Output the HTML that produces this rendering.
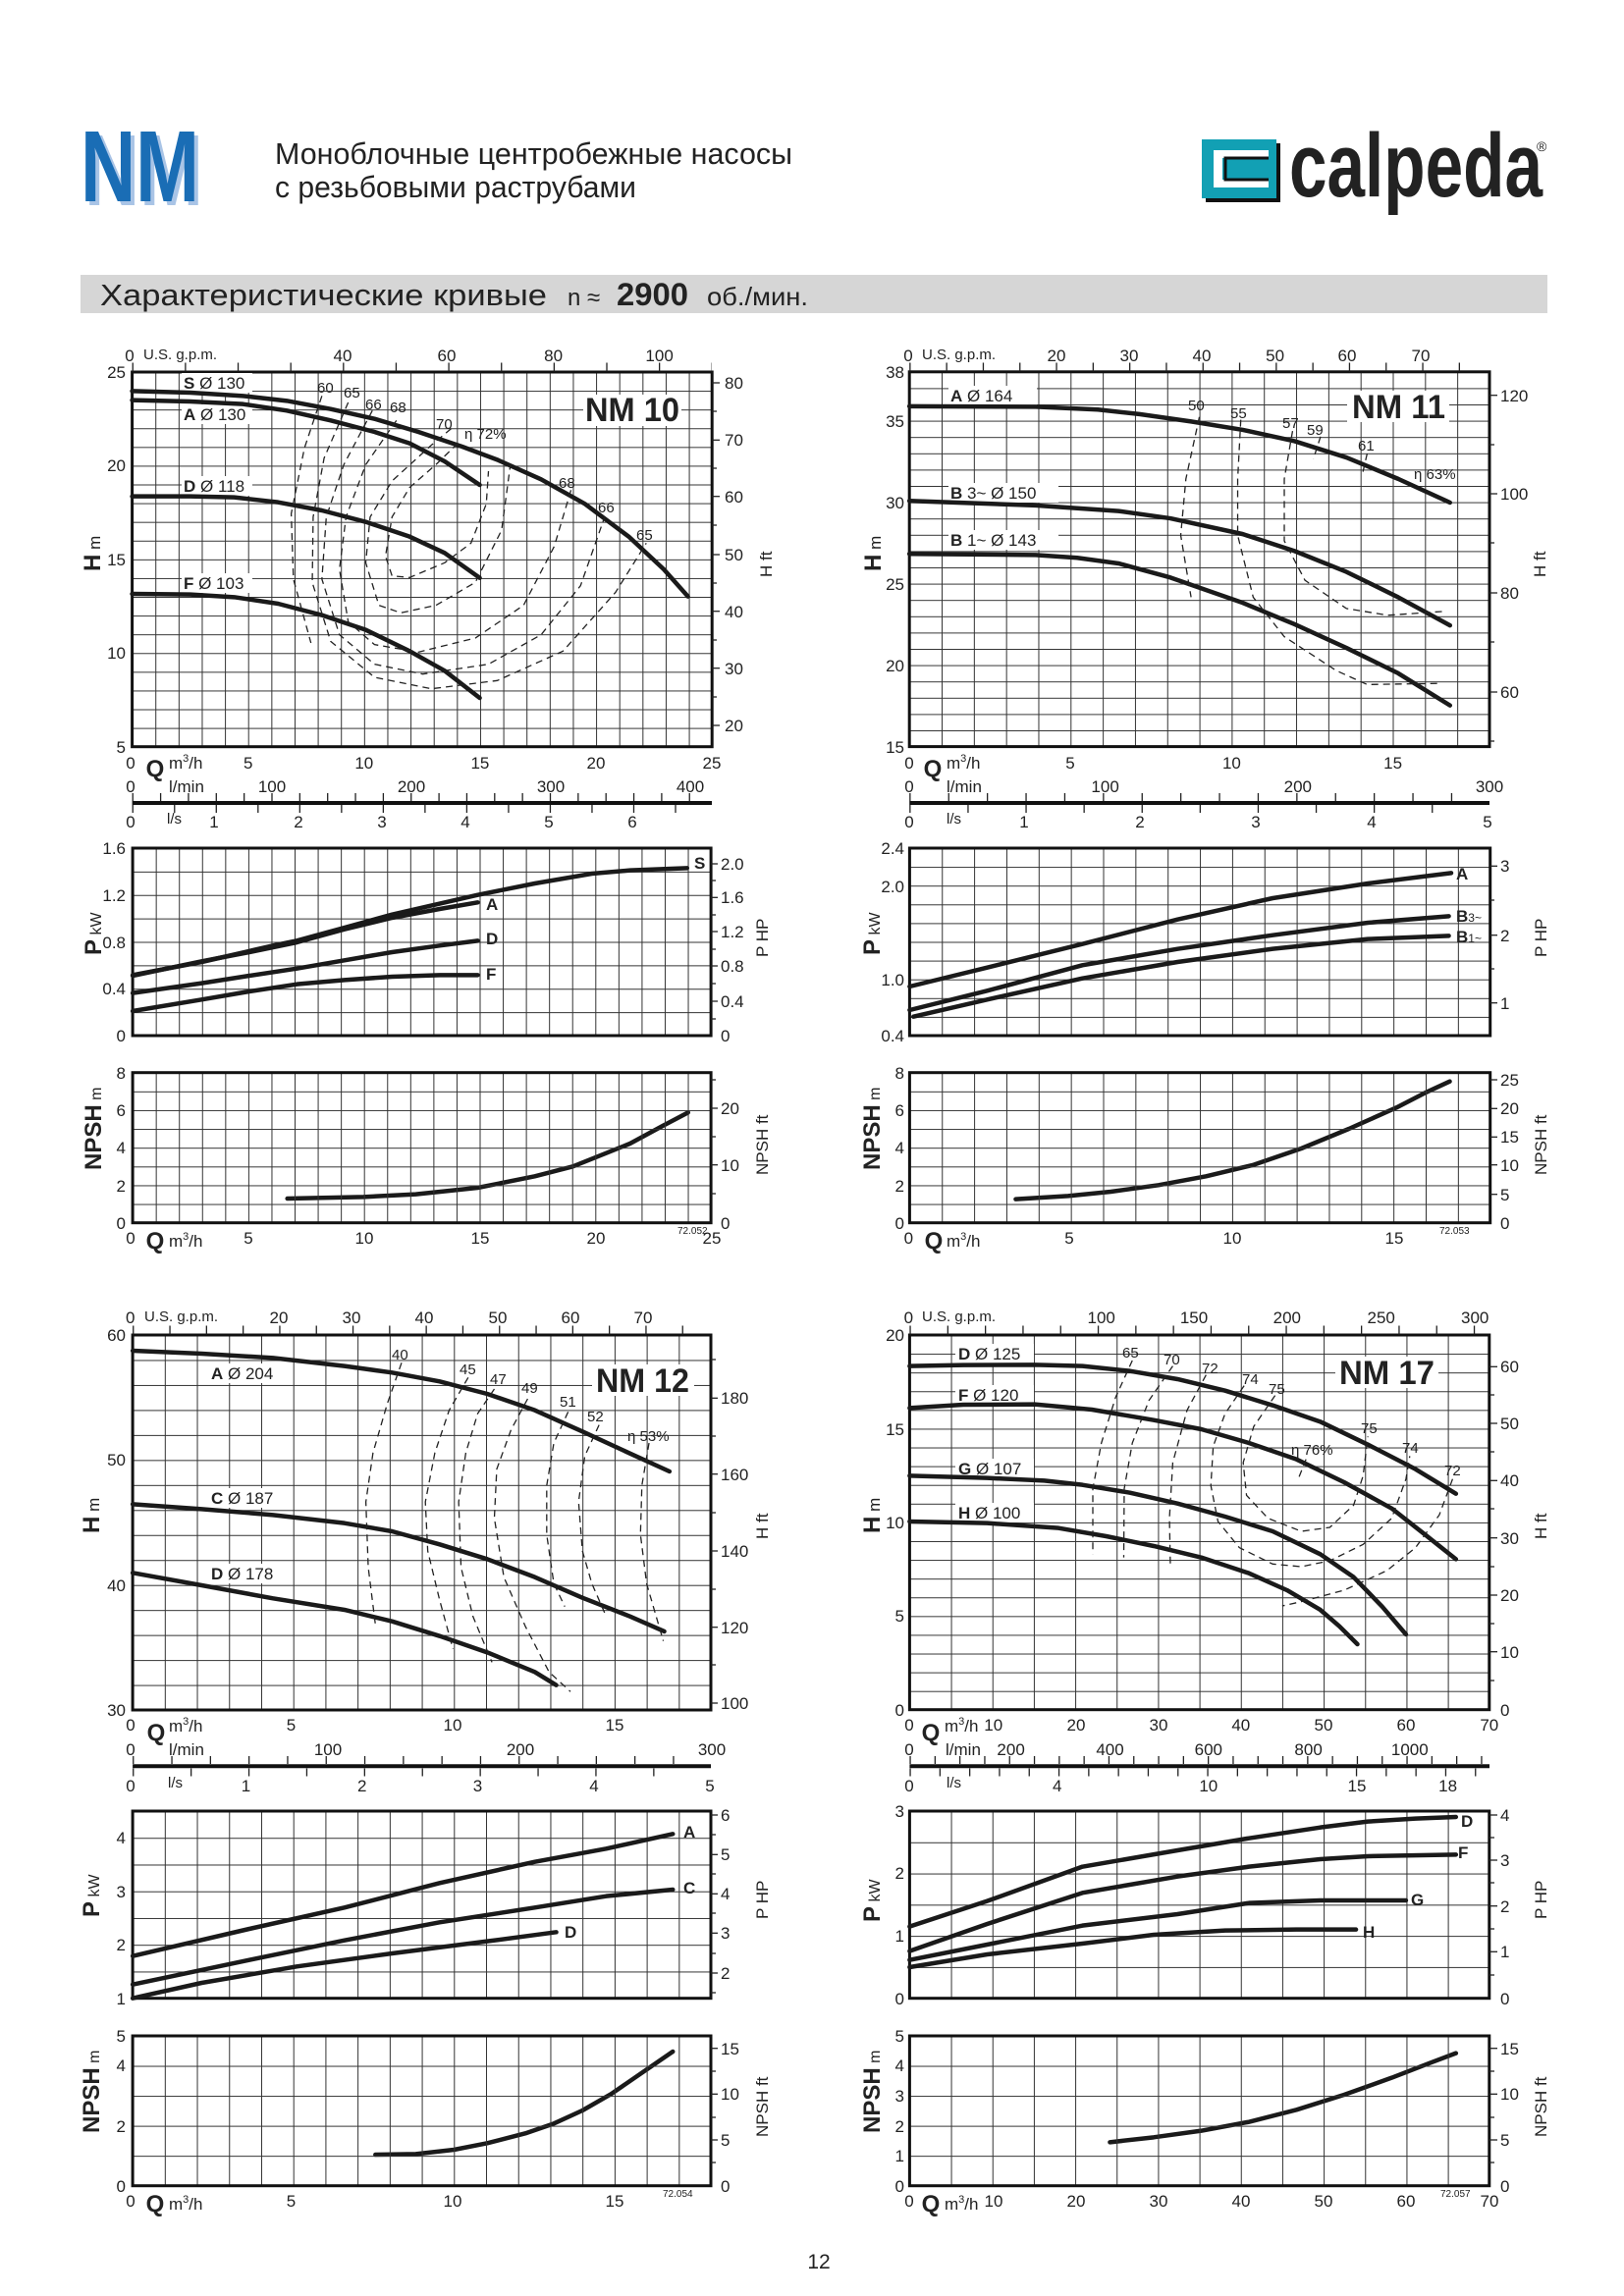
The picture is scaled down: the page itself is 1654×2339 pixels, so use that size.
<!DOCTYPE html>
<html><head><meta charset="utf-8"><style>
html,body{margin:0;padding:0;background:#fff}
svg{display:block}
text{font-family:"Liberation Sans",sans-serif;fill:#222}
.t{font-size:17px}.s{font-size:15px}.xs{font-size:10px}
.b{font-weight:bold}
.c{fill:none;stroke:#1a1a1a;stroke-width:4.5;stroke-linejoin:round;stroke-linecap:round;vector-effect:non-scaling-stroke}
.d{fill:none;stroke:#222;stroke-width:1.3;stroke-dasharray:7 5;vector-effect:non-scaling-stroke}
.f{fill:none;stroke:#111;stroke-width:3}
.tk{stroke:#222;stroke-width:1.3}
.e{text-anchor:end}.m{text-anchor:middle}
</style></head><body>
<svg width="1654" height="2339" viewBox="0 0 1654 2339" xmlns="http://www.w3.org/2000/svg">
<defs>
<pattern id="g1" patternUnits="userSpaceOnUse" x="134.6" y="379" width="23.624" height="19.085"><path d="M0 0H23.624M0 0V19.085" stroke="#333" stroke-width="2" fill="none"/></pattern>
<pattern id="g2" patternUnits="userSpaceOnUse" x="926.2" y="378.8" width="32.82" height="16.6"><path d="M0 0H32.82M0 0V16.6" stroke="#333" stroke-width="2" fill="none"/></pattern>
<pattern id="g3" patternUnits="userSpaceOnUse" x="135.1" y="864" width="23.56" height="23.875"><path d="M0 0H23.56M0 0V23.875" stroke="#333" stroke-width="2" fill="none"/></pattern>
<pattern id="g4" patternUnits="userSpaceOnUse" x="135.1" y="1092.7" width="23.56" height="19.125"><path d="M0 0H23.56M0 0V19.125" stroke="#333" stroke-width="2" fill="none"/></pattern>
<pattern id="g5" patternUnits="userSpaceOnUse" x="926.4" y="864" width="32.85" height="19.1"><path d="M0 0H32.85M0 0V19.1" stroke="#333" stroke-width="2" fill="none"/></pattern>
<pattern id="g6" patternUnits="userSpaceOnUse" x="926.4" y="1092.7" width="32.85" height="19.125"><path d="M0 0H32.85M0 0V19.125" stroke="#333" stroke-width="2" fill="none"/></pattern>
<pattern id="g7" patternUnits="userSpaceOnUse" x="135.1" y="1360" width="32.72" height="25.47"><path d="M0 0H32.72M0 0V25.47" stroke="#333" stroke-width="2" fill="none"/></pattern>
<pattern id="g8" patternUnits="userSpaceOnUse" x="926.4" y="1360" width="42.17" height="19.09"><path d="M0 0H42.17M0 0V19.09" stroke="#333" stroke-width="2" fill="none"/></pattern>
<pattern id="g9" patternUnits="userSpaceOnUse" x="135.1" y="1845" width="32.72" height="27.24"><path d="M0 0H32.72M0 0V27.24" stroke="#333" stroke-width="2" fill="none"/></pattern>
<pattern id="g10" patternUnits="userSpaceOnUse" x="135.1" y="2074" width="32.72" height="30.54"><path d="M0 0H32.72M0 0V30.54" stroke="#333" stroke-width="2" fill="none"/></pattern>
<pattern id="g11" patternUnits="userSpaceOnUse" x="926.4" y="1845" width="42.17" height="31.78"><path d="M0 0H42.17M0 0V31.78" stroke="#333" stroke-width="2" fill="none"/></pattern>
<pattern id="g12" patternUnits="userSpaceOnUse" x="926.4" y="2074" width="42.17" height="30.54"><path d="M0 0H42.17M0 0V30.54" stroke="#333" stroke-width="2" fill="none"/></pattern>
</defs>

<!-- HEADER -->
<text x="86" y="209" font-size="103" font-weight="bold" textLength="121" lengthAdjust="spacingAndGlyphs" style="fill:#a9c4e6">NM</text>
<text x="82" y="205" font-size="103" font-weight="bold" textLength="121" lengthAdjust="spacingAndGlyphs" style="fill:#1a6db5">NM</text>
<text x="280" y="167" font-size="31" textLength="527" lengthAdjust="spacingAndGlyphs">Моноблочные центробежные насосы</text>
<text x="280" y="201" font-size="31" textLength="368" lengthAdjust="spacingAndGlyphs">с резьбовыми раструбами</text>
<rect x="1228" y="146" width="76" height="60" fill="#111"/>
<rect x="1224" y="142" width="76" height="60" fill="#12a0b4"/>
<path d="M1292 153H1236V191H1292V183H1245V161H1292Z" fill="#fff"/>
<path d="M1292 161H1248V183H1292" fill="none" stroke="#111" stroke-width="3"/>
<text x="1313" y="200" font-size="92" font-weight="bold" textLength="258" lengthAdjust="spacingAndGlyphs">calpeda</text>
<text x="1565" y="154" font-size="14">®</text>
<rect x="82" y="280" width="1494" height="39" fill="#d6d6d6"/>
<text x="102" y="311" font-size="31" textLength="455" lengthAdjust="spacingAndGlyphs">Характеристические кривые</text>
<text x="578" y="311" font-size="24">n ≈</text>
<text x="628" y="311" font-size="32" font-weight="bold" textLength="73" lengthAdjust="spacingAndGlyphs">2900</text>
<text x="720" y="311" font-size="26" textLength="103" lengthAdjust="spacingAndGlyphs">об./мин.</text>

<!-- ================= NM10 H ================= -->
<rect x="134.6" y="379" width="590.6" height="381.7" fill="url(#g1)"/>
<rect x="134.6" y="379" width="590.6" height="381.7" class="f"/>
<line x1="134.6" y1="374" x2="725" y2="374" stroke="#222" stroke-width="9" stroke-dasharray="1.3 52.34"/>
<text x="132" y="368" class="t m">0</text><text x="146" y="366" class="s">U.S. g.p.m.</text>
<text x="349" y="368" class="t m">40</text><text x="455" y="368" class="t m">60</text><text x="563.6" y="368" class="t m">80</text><text x="671.6" y="368" class="t m">100</text>
<text x="128" y="385" class="t e">25</text><text x="128" y="480" class="t e">20</text><text x="128" y="576" class="t e">15</text><text x="128" y="671" class="t e">10</text><text x="128" y="767" class="t e">5</text>
<g class="tk"><line x1="725" y1="390" x2="733" y2="390"/><line x1="725" y1="448.3" x2="733" y2="448.3"/><line x1="725" y1="505.7" x2="733" y2="505.7"/><line x1="725" y1="565" x2="733" y2="565"/><line x1="725" y1="622.7" x2="733" y2="622.7"/><line x1="725" y1="680.7" x2="733" y2="680.7"/><line x1="725" y1="739" x2="733" y2="739"/>
<line x1="725" y1="419" x2="730" y2="419"/><line x1="725" y1="477" x2="730" y2="477"/><line x1="725" y1="535" x2="730" y2="535"/><line x1="725" y1="594" x2="730" y2="594"/><line x1="725" y1="652" x2="730" y2="652"/><line x1="725" y1="710" x2="730" y2="710"/></g>
<text x="738" y="396" class="t">80</text><text x="738" y="454" class="t">70</text><text x="738" y="512" class="t">60</text><text x="738" y="571" class="t">50</text><text x="738" y="629" class="t">40</text><text x="738" y="687" class="t">30</text><text x="738" y="745" class="t">20</text>
<text transform="translate(102,582) rotate(-90)"><tspan font-size="24" font-weight="bold">H</tspan><tspan font-size="17"> m</tspan></text>
<text transform="translate(786,588) rotate(-90)" font-size="17">H ft</text>
<rect x="594" y="402" width="100" height="32" fill="#fff"/>
<text x="596" y="429" font-size="34" font-weight="bold" textLength="96" lengthAdjust="spacingAndGlyphs">NM 10</text>
<rect x="185" y="380" width="72" height="20" fill="#fff"/><rect x="185" y="412" width="72" height="20" fill="#fff"/><rect x="185" y="485" width="72" height="20" fill="#fff"/><rect x="185" y="584" width="72" height="20" fill="#fff"/>
<text x="187" y="396" class="t"><tspan class="b">S</tspan> Ø 130</text>
<text x="187" y="428" class="t"><tspan class="b">A</tspan> Ø 130</text>
<text x="187" y="501" class="t"><tspan class="b">D</tspan> Ø 118</text>
<text x="187" y="600" class="t"><tspan class="b">F</tspan> Ø 103</text>
<text x="323" y="400" class="s">60</text><text x="350" y="405" class="s">65</text><text x="372" y="417" class="s">66</text><text x="397" y="420" class="s">68</text><text x="444" y="437" class="s">70</text><text x="473" y="447" class="s">η 72%</text><text x="569" y="497" class="s">68</text><text x="609" y="522" class="s">66</text><text x="648" y="550" class="s">65</text>
<g transform="translate(60,340) scale(0.44643,0.33333)">
<polyline class="c" points="167,175 300,180 420,190 520,205 620,230 720,260 820,300 920,345 1000,385 1100,445 1200,520 1300,620 1380,720 1435,803"/>
<polyline class="c" points="167,203 300,207 420,215 520,235 620,265 720,300 800,335 880,390 960,462"/>
<polyline class="c" points="167,497 300,497 400,500 500,515 600,540 700,575 800,620 880,670 960,746"/>
<polyline class="c" points="167,795 300,797 400,805 500,825 600,860 700,905 800,970 880,1030 960,1113"/>
<polyline class="d" points="600,190 560,350 530,550 535,750 575,945"/>
<polyline class="d" points="660,210 605,380 580,560 578,760 620,940 720,1050 850,1085 1000,1060 1150,970 1270,790 1340,640"/>
<polyline class="d" points="715,235 650,400 610,560 600,750 640,920 720,1010 830,1040 980,1010 1100,920 1190,770 1245,560"/>
<polyline class="d" points="770,265 700,400 655,560 640,720 660,880 720,950 820,973 950,930 1060,830 1130,650 1170,470"/>
<polyline class="d" points="895,290 850,340 760,450 710,560 700,700 730,830 780,853 860,830 950,760 1010,600 1030,400"/>
<polyline class="d" points="910,335 860,400 800,470 760,560 745,680 760,740 800,745 880,700 940,640 975,520 980,420"/>
</g>
<line x1="134.6" y1="818" x2="725" y2="818" stroke="#111" stroke-width="4"/>
<line x1="134.6" y1="812" x2="725" y2="812" stroke="#222" stroke-width="8" stroke-dasharray="1.3 27.05"/>
<line x1="134.6" y1="824" x2="725" y2="824" stroke="#222" stroke-width="8" stroke-dasharray="1.3 41.22"/>
<text x="158" y="791" font-size="24" font-weight="bold" class="m">Q</text><text x="172" y="783" class="t">m<tspan font-size="11" dy="-7">3</tspan><tspan dy="7">/h</tspan></text>
<text x="133" y="783" class="t m">0</text><text x="252.7" y="783" class="t m">5</text><text x="370.8" y="783" class="t m">10</text><text x="488.9" y="783" class="t m">15</text><text x="607" y="783" class="t m">20</text><text x="725" y="783" class="t m">25</text>
<text x="133" y="807" class="t m">0</text><text x="172" y="807" class="t">l/min</text><text x="277" y="807" class="t m">100</text><text x="419" y="807" class="t m">200</text><text x="561" y="807" class="t m">300</text><text x="703" y="807" class="t m">400</text>
<text x="133" y="843" class="t m">0</text><text x="170" y="839" class="s">l/s</text><text x="218" y="843" class="t m">1</text><text x="304" y="843" class="t m">2</text><text x="389" y="843" class="t m">3</text><text x="474" y="843" class="t m">4</text><text x="559" y="843" class="t m">5</text><text x="644" y="843" class="t m">6</text>

<!-- NM10 P -->
<rect x="135.1" y="864" width="589" height="191" fill="url(#g3)"/>
<rect x="135.1" y="864" width="589" height="191" class="f"/>
<text x="128" y="870" class="t e">1.6</text><text x="128" y="918" class="t e">1.2</text><text x="128" y="966" class="t e">0.8</text><text x="128" y="1013" class="t e">0.4</text><text x="128" y="1061" class="t e">0</text>
<g class="tk"><line x1="724" y1="880" x2="731" y2="880"/><line x1="724" y1="914.3" x2="731" y2="914.3"/><line x1="724" y1="949" x2="731" y2="949"/><line x1="724" y1="984" x2="731" y2="984"/><line x1="724" y1="1020" x2="731" y2="1020"/><line x1="724" y1="897" x2="729" y2="897"/><line x1="724" y1="932" x2="729" y2="932"/><line x1="724" y1="967" x2="729" y2="967"/><line x1="724" y1="1002" x2="729" y2="1002"/><line x1="724" y1="1038" x2="729" y2="1038"/></g>
<text x="734" y="886" class="t">2.0</text><text x="734" y="920" class="t">1.6</text><text x="734" y="955" class="t">1.2</text><text x="734" y="990" class="t">0.8</text><text x="734" y="1026" class="t">0.4</text><text x="734" y="1061" class="t">0</text>
<text transform="translate(103,973) rotate(-90)"><tspan font-size="24" font-weight="bold">P</tspan><tspan font-size="16"> kW</tspan></text>
<text transform="translate(782,975) rotate(-90)" font-size="17">P HP</text>
<g transform="translate(60,820) scale(0.48469,0.33333)">
<polyline class="c" points="155,520 300,480 450,430 500,415 600,375 700,335 880,275 1000,240 1120,210 1200,200 1320,193"/>
<polyline class="c" points="155,522 300,478 400,450 500,420 600,380 700,345 800,318 880,298"/>
<polyline class="c" points="155,575 300,545 400,522 500,500 600,475 700,450 800,430 880,415"/>
<polyline class="c" points="155,630 300,595 400,570 500,548 600,535 700,525 800,520 880,520"/>
<polyline class="c" points="480,1203 640,1198 750,1190 880,1170 1000,1135 1080,1105 1200,1035 1270,980 1322,940"/>
</g>
<text x="707" y="885" class="t b">S</text><text x="495" y="927" class="t b">A</text><text x="495" y="962" class="t b">D</text><text x="495" y="998" class="t b">F</text>

<!-- NM10 NPSH -->
<rect x="135.1" y="1092.7" width="589" height="153" fill="url(#g4)"/>
<rect x="135.1" y="1092.7" width="589" height="153" class="f"/>
<text x="128" y="1099" class="t e">8</text><text x="128" y="1137" class="t e">6</text><text x="128" y="1175" class="t e">4</text><text x="128" y="1214" class="t e">2</text><text x="128" y="1252" class="t e">0</text>
<g class="tk"><line x1="724" y1="1129" x2="731" y2="1129"/><line x1="724" y1="1186.7" x2="731" y2="1186.7"/><line x1="724" y1="1100" x2="729" y2="1100"/><line x1="724" y1="1158" x2="729" y2="1158"/><line x1="724" y1="1216" x2="729" y2="1216"/></g>
<text x="734" y="1135" class="t">20</text><text x="734" y="1193" class="t">10</text><text x="734" y="1252" class="t">0</text>
<text transform="translate(103,1192) rotate(-90)"><tspan font-size="24" font-weight="bold">NPSH</tspan><tspan font-size="16"> m</tspan></text>
<text transform="translate(782,1197) rotate(-90)" font-size="17">NPSH ft</text>
<text x="133" y="1267" class="t m">0</text><text x="158" y="1272" font-size="24" font-weight="bold" class="m">Q</text><text x="172" y="1270" class="t">m<tspan font-size="11" dy="-7">3</tspan><tspan dy="7">/h</tspan></text>
<text x="253" y="1267" class="t m">5</text><text x="371" y="1267" class="t m">10</text><text x="489" y="1267" class="t m">15</text><text x="607" y="1267" class="t m">20</text><text x="725" y="1267" class="t m">25</text><text x="690" y="1257" class="xs">72.052</text>

<!-- ================= NM11 H ================= -->
<rect x="926.2" y="378.8" width="590.8" height="381.8" fill="url(#g2)"/>
<rect x="926.2" y="378.8" width="590.8" height="381.8" class="f"/>
<text x="925" y="368" class="t m">0</text><text x="939" y="366" class="s">U.S. g.p.m.</text>
<text x="1076" y="368" class="t m">20</text><text x="1150" y="368" class="t m">30</text><text x="1224" y="368" class="t m">40</text><text x="1298.6" y="368" class="t m">50</text><text x="1372" y="368" class="t m">60</text><text x="1447" y="368" class="t m">70</text>
<line x1="926.2" y1="374" x2="1517" y2="374" stroke="#222" stroke-width="9" stroke-dasharray="1.3 36.0"/>
<text x="921" y="385" class="t e">38</text><text x="921" y="435" class="t e">35</text><text x="921" y="518" class="t e">30</text><text x="921" y="601" class="t e">25</text><text x="921" y="684" class="t e">20</text><text x="921" y="767" class="t e">15</text>
<g class="tk"><line x1="1517" y1="402.7" x2="1525" y2="402.7"/><line x1="1517" y1="503" x2="1525" y2="503"/><line x1="1517" y1="604" x2="1525" y2="604"/><line x1="1517" y1="705" x2="1525" y2="705"/><line x1="1517" y1="453" x2="1522" y2="453"/><line x1="1517" y1="553" x2="1522" y2="553"/><line x1="1517" y1="654" x2="1522" y2="654"/><line x1="1517" y1="755" x2="1522" y2="755"/></g>
<text x="1528" y="409" class="t">120</text><text x="1528" y="509" class="t">100</text><text x="1528" y="610" class="t">80</text><text x="1528" y="711" class="t">60</text>
<text transform="translate(897,582) rotate(-90)"><tspan font-size="24" font-weight="bold">H</tspan><tspan font-size="17"> m</tspan></text>
<text transform="translate(1574,588) rotate(-90)" font-size="17">H ft</text>
<rect x="1372" y="398" width="104" height="32" fill="#fff"/>
<text x="1377" y="426" font-size="34" font-weight="bold" textLength="95" lengthAdjust="spacingAndGlyphs">NM 11</text>
<rect x="966" y="393" width="90" height="20" fill="#fff"/><rect x="966" y="492" width="112" height="20" fill="#fff"/><rect x="966" y="540" width="112" height="20" fill="#fff"/>
<text x="968" y="409" class="t"><tspan class="b">A</tspan>  Ø 164</text>
<text x="968" y="508" class="t"><tspan class="b">B</tspan> 3~  Ø 150</text>
<text x="968" y="556" class="t"><tspan class="b">B</tspan> 1~  Ø 143</text>
<text x="1210" y="418" class="s">50</text><text x="1253" y="426" class="s">55</text><text x="1306" y="436" class="s">57</text><text x="1331" y="443" class="s">59</text><text x="1383" y="459" class="s">61</text><text x="1440" y="488" class="s">η 63%</text>
<g transform="scale(1.05485,0.57398)">
<polyline class="c" points="878,721 1000,722 1060,727 1100,735 1150,748 1200,763 1250,783 1300,812 1350,850 1400,892"/>
<polyline class="c" points="878,889 1000,897 1080,907 1130,920 1200,948 1250,978 1300,1015 1350,1060 1400,1110"/>
<polyline class="c" points="878,983 1000,985 1040,990 1080,1000 1130,1025 1200,1070 1250,1108 1300,1150 1350,1195 1400,1252"/>
<polyline class="d" points="1158,740 1145,850 1140,950 1150,1060"/>
<polyline class="d" points="1198,745 1195,850 1195,950 1210,1060 1240,1130 1290,1190 1320,1215 1390,1213"/>
<polyline class="d" points="1248,765 1240,850 1240,960 1260,1030 1300,1080 1340,1092 1395,1085"/>
<polyline class="d" points="1275,775 1268,815"/><polyline class="d" points="1320,805 1315,845"/>
</g>
<line x1="926.2" y1="818" x2="1517" y2="818" stroke="#111" stroke-width="4"/>
<line x1="926.2" y1="812" x2="1517" y2="812" stroke="#222" stroke-width="8" stroke-dasharray="1.3 38.1"/>
<line x1="926.2" y1="824" x2="1517" y2="824" stroke="#222" stroke-width="8" stroke-dasharray="1.3 57.8"/>
<text x="926" y="783" class="t m">0</text><text x="950" y="791" font-size="24" font-weight="bold" class="m">Q</text><text x="964" y="783" class="t">m<tspan font-size="11" dy="-7">3</tspan><tspan dy="7">/h</tspan></text>
<text x="1090" y="783" class="t m">5</text><text x="1254.4" y="783" class="t m">10</text><text x="1418.6" y="783" class="t m">15</text>
<text x="926" y="807" class="t m">0</text><text x="964" y="807" class="t">l/min</text><text x="1125.6" y="807" class="t m">100</text><text x="1321.8" y="807" class="t m">200</text><text x="1517" y="807" class="t m">300</text>
<text x="926" y="843" class="t m">0</text><text x="964" y="839" class="s">l/s</text><text x="1043" y="843" class="t m">1</text><text x="1161" y="843" class="t m">2</text><text x="1279" y="843" class="t m">3</text><text x="1397" y="843" class="t m">4</text><text x="1515" y="843" class="t m">5</text>

<!-- NM11 P -->
<rect x="926.4" y="864" width="591.3" height="191" fill="url(#g5)"/>
<rect x="926.4" y="864" width="591.3" height="191" class="f"/>
<text x="921" y="870" class="t e">2.4</text><text x="921" y="909" class="t e">2.0</text><text x="921" y="1004" class="t e">1.0</text><text x="921" y="1061" class="t e">0.4</text>
<g class="tk"><line x1="1517.7" y1="882.3" x2="1525" y2="882.3"/><line x1="1517.7" y1="952.7" x2="1525" y2="952.7"/><line x1="1517.7" y1="1021.7" x2="1525" y2="1021.7"/><line x1="1517.7" y1="917" x2="1522" y2="917"/><line x1="1517.7" y1="987" x2="1522" y2="987"/></g>
<text x="1528" y="888" class="t">3</text><text x="1528" y="959" class="t">2</text><text x="1528" y="1028" class="t">1</text>
<text transform="translate(896,973) rotate(-90)"><tspan font-size="24" font-weight="bold">P</tspan><tspan font-size="16"> kW</tspan></text>
<text transform="translate(1575,975) rotate(-90)" font-size="17">P HP</text>
<g transform="translate(860,820) scale(0.48469,0.33333)">
<polyline class="c" points="137,555 300,497 500,425 700,350 900,285 1100,240 1275,208"/>
<polyline class="c" points="137,627 300,568 500,490 700,440 900,398 1100,360 1270,340"/>
<polyline class="c" points="145,647 300,595 500,530 700,480 900,440 1100,410 1270,400"/>
<polyline class="c" points="360,1205 470,1195 560,1182 660,1162 760,1135 860,1100 960,1050 1060,990 1160,925 1220,880 1272,845"/>
</g>
<text x="1483" y="896" class="t b">A</text><text x="1483" y="939" class="t"><tspan class="b">B</tspan><tspan font-size="12">3~</tspan></text><text x="1483" y="960" class="t"><tspan class="b">B</tspan><tspan font-size="12">1~</tspan></text>

<!-- NM11 NPSH -->
<rect x="926.4" y="1092.7" width="591.3" height="153" fill="url(#g6)"/>
<rect x="926.4" y="1092.7" width="591.3" height="153" class="f"/>
<text x="921" y="1099" class="t e">8</text><text x="921" y="1137" class="t e">6</text><text x="921" y="1175" class="t e">4</text><text x="921" y="1214" class="t e">2</text><text x="921" y="1252" class="t e">0</text>
<g class="tk"><line x1="1517.7" y1="1100" x2="1525" y2="1100"/><line x1="1517.7" y1="1129.3" x2="1525" y2="1129.3"/><line x1="1517.7" y1="1158.3" x2="1525" y2="1158.3"/><line x1="1517.7" y1="1186.7" x2="1525" y2="1186.7"/><line x1="1517.7" y1="1216.7" x2="1525" y2="1216.7"/></g>
<text x="1528" y="1106" class="t">25</text><text x="1528" y="1135" class="t">20</text><text x="1528" y="1164" class="t">15</text><text x="1528" y="1193" class="t">10</text><text x="1528" y="1223" class="t">5</text><text x="1528" y="1252" class="t">0</text>
<text transform="translate(896,1192) rotate(-90)"><tspan font-size="24" font-weight="bold">NPSH</tspan><tspan font-size="16"> m</tspan></text>
<text transform="translate(1575,1197) rotate(-90)" font-size="17">NPSH ft</text>
<text x="925.4" y="1267" class="t m">0</text><text x="951" y="1272" font-size="24" font-weight="bold" class="m">Q</text><text x="964" y="1270" class="t">m<tspan font-size="11" dy="-7">3</tspan><tspan dy="7">/h</tspan></text>
<text x="1089" y="1267" class="t m">5</text><text x="1255" y="1267" class="t m">10</text><text x="1420" y="1267" class="t m">15</text><text x="1466" y="1257" class="xs">72.053</text>

<!-- ================= NM12 H ================= -->
<rect x="135.1" y="1360" width="588.9" height="382" fill="url(#g7)"/>
<rect x="135.1" y="1360" width="588.9" height="382" class="f"/>
<text x="132.7" y="1348" class="t m">0</text><text x="147" y="1346" class="s">U.S. g.p.m.</text>
<text x="284" y="1348" class="t m">20</text><text x="358" y="1348" class="t m">30</text><text x="432" y="1348" class="t m">40</text><text x="507" y="1348" class="t m">50</text><text x="581" y="1348" class="t m">60</text><text x="655" y="1348" class="t m">70</text>
<line x1="135.1" y1="1355" x2="724" y2="1355" stroke="#222" stroke-width="9" stroke-dasharray="1.3 36.0"/>
<text x="128" y="1366" class="t e">60</text><text x="128" y="1493" class="t e">50</text><text x="128" y="1621" class="t e">40</text><text x="128" y="1748" class="t e">30</text>
<g class="tk"><line x1="724" y1="1424.3" x2="731" y2="1424.3"/><line x1="724" y1="1501.7" x2="731" y2="1501.7"/><line x1="724" y1="1580" x2="731" y2="1580"/><line x1="724" y1="1657.7" x2="731" y2="1657.7"/><line x1="724" y1="1735" x2="731" y2="1735"/><line x1="724" y1="1385" x2="729" y2="1385"/><line x1="724" y1="1463" x2="729" y2="1463"/><line x1="724" y1="1541" x2="729" y2="1541"/><line x1="724" y1="1619" x2="729" y2="1619"/><line x1="724" y1="1696" x2="729" y2="1696"/></g>
<text x="734" y="1430" class="t">180</text><text x="734" y="1508" class="t">160</text><text x="734" y="1586" class="t">140</text><text x="734" y="1664" class="t">120</text><text x="734" y="1741" class="t">100</text>
<text transform="translate(101,1562) rotate(-90)"><tspan font-size="24" font-weight="bold">H</tspan><tspan font-size="17"> m</tspan></text>
<text transform="translate(782,1568) rotate(-90)" font-size="17">H ft</text>
<rect x="603" y="1390" width="104" height="32" fill="#fff"/>
<text x="607" y="1418" font-size="34" font-weight="bold" textLength="95" lengthAdjust="spacingAndGlyphs">NM 12</text>
<rect x="212" y="1389" width="80" height="20" fill="#fff"/><rect x="212" y="1516" width="80" height="20" fill="#fff"/><rect x="212" y="1593" width="80" height="20" fill="#fff"/>
<text x="215" y="1405" class="t"><tspan class="b">A</tspan>  Ø 204</text>
<text x="215" y="1532" class="t"><tspan class="b">C</tspan>  Ø 187</text>
<text x="215" y="1609" class="t"><tspan class="b">D</tspan>   Ø 178</text>
<text x="399" y="1385" class="s">40</text><text x="468" y="1400" class="s">45</text><text x="499" y="1410" class="s">47</text><text x="531" y="1419" class="s">49</text><text x="570" y="1433" class="s">51</text><text x="598" y="1448" class="s">52</text><text x="639" y="1468" class="s">η 53%</text>
<g transform="translate(60,1330) scale(0.48469,0.33333)">
<polyline class="c" points="155,138 300,147 450,160 600,185 700,205 800,232 900,270 1000,320 1100,385 1200,452 1283,507"/>
<polyline class="c" points="155,607 300,622 450,640 600,665 700,690 800,730 900,775 1000,830 1100,893 1200,950 1272,996"/>
<polyline class="c" points="155,817 300,855 450,895 600,930 700,965 800,1010 900,1060 1000,1120 1045,1160"/>
<polyline class="d" points="720,175 690,300 660,450 645,600 650,800 665,975"/>
<polyline class="d" points="860,220 820,320 790,450 770,600 775,750 800,900 828,1050"/>
<polyline class="d" points="915,255 880,330 855,450 840,600 845,800 870,950 910,1090"/>
<polyline class="d" points="985,285 950,380 920,500 915,650 935,830 980,980 1030,1120 1075,1180"/>
<polyline class="d" points="1070,325 1040,420 1025,550 1025,700 1040,850 1063,920"/>
<polyline class="d" points="1135,365 1105,460 1092,600 1100,750 1120,850 1150,950"/>
<polyline class="d" points="1240,420 1225,550 1222,700 1235,850 1270,1025"/>
</g>
<line x1="135.1" y1="1799.3" x2="724" y2="1799.3" stroke="#111" stroke-width="4"/>
<line x1="135.1" y1="1793" x2="724" y2="1793" stroke="#222" stroke-width="8" stroke-dasharray="1.3 38.0"/>
<line x1="135.1" y1="1805.5" x2="724" y2="1805.5" stroke="#222" stroke-width="8" stroke-dasharray="1.3 57.6"/>
<text x="133" y="1763" class="t m">0</text><text x="159" y="1773" font-size="24" font-weight="bold" class="m">Q</text><text x="172" y="1764" class="t">m<tspan font-size="11" dy="-7">3</tspan><tspan dy="7">/h</tspan></text>
<text x="296.5" y="1763" class="t m">5</text><text x="461" y="1763" class="t m">10</text><text x="626" y="1763" class="t m">15</text>
<text x="133" y="1788" class="t m">0</text><text x="172" y="1788" class="t">l/min</text><text x="334" y="1788" class="t m">100</text><text x="530" y="1788" class="t m">200</text><text x="725" y="1788" class="t m">300</text>
<text x="133" y="1825" class="t m">0</text><text x="171" y="1821" class="s">l/s</text><text x="250.5" y="1825" class="t m">1</text><text x="368.7" y="1825" class="t m">2</text><text x="486.5" y="1825" class="t m">3</text><text x="605" y="1825" class="t m">4</text><text x="723" y="1825" class="t m">5</text>

<!-- NM12 P -->
<rect x="135.1" y="1845" width="588.9" height="190.7" fill="url(#g9)"/>
<rect x="135.1" y="1845" width="588.9" height="190.7" class="f"/>
<text x="128" y="1878" class="t e">4</text><text x="128" y="1933" class="t e">3</text><text x="128" y="1987" class="t e">2</text><text x="128" y="2042" class="t e">1</text>
<g class="tk"><line x1="724" y1="1849" x2="731" y2="1849"/><line x1="724" y1="1889.3" x2="731" y2="1889.3"/><line x1="724" y1="1929.3" x2="731" y2="1929.3"/><line x1="724" y1="1969.3" x2="731" y2="1969.3"/><line x1="724" y1="2010" x2="731" y2="2010"/><line x1="724" y1="1869" x2="729" y2="1869"/><line x1="724" y1="1909" x2="729" y2="1909"/><line x1="724" y1="1949" x2="729" y2="1949"/><line x1="724" y1="1990" x2="729" y2="1990"/><line x1="724" y1="2030" x2="729" y2="2030"/></g>
<text x="734" y="1855" class="t">6</text><text x="734" y="1895" class="t">5</text><text x="734" y="1935" class="t">4</text><text x="734" y="1975" class="t">3</text><text x="734" y="2016" class="t">2</text>
<text transform="translate(101,1953) rotate(-90)"><tspan font-size="24" font-weight="bold">P</tspan><tspan font-size="16"> kW</tspan></text>
<text transform="translate(782,1955) rotate(-90)" font-size="17">P HP</text>
<g transform="translate(60,1830) scale(0.48469,0.33333)">
<polyline class="c" points="155,488 400,405 600,340 800,265 1000,200 1150,160 1290,115"/>
<polyline class="c" points="155,575 400,500 600,440 800,385 1000,340 1150,305 1290,285"/>
<polyline class="c" points="155,617 300,570 500,520 700,480 900,443 1045,415"/>
<polyline class="c" points="665,1095 750,1093 830,1080 900,1060 980,1030 1040,1000 1100,960 1160,910 1220,850 1290,780"/>
</g>
<text x="696" y="1872" class="t b">A</text><text x="696" y="1929" class="t b">C</text><text x="575" y="1974" class="t b">D</text>

<!-- NM12 NPSH -->
<rect x="135.1" y="2074" width="588.9" height="152.7" fill="url(#g10)"/>
<rect x="135.1" y="2074" width="588.9" height="152.7" class="f"/>
<text x="128" y="2080" class="t e">5</text><text x="128" y="2110" class="t e">4</text><text x="128" y="2172" class="t e">2</text><text x="128" y="2233" class="t e">0</text>
<g class="tk"><line x1="724" y1="2086.7" x2="731" y2="2086.7"/><line x1="724" y1="2133.3" x2="731" y2="2133.3"/><line x1="724" y1="2180" x2="731" y2="2180"/><line x1="724" y1="2110" x2="729" y2="2110"/><line x1="724" y1="2157" x2="729" y2="2157"/><line x1="724" y1="2203" x2="729" y2="2203"/></g>
<text x="734" y="2093" class="t">15</text><text x="734" y="2139" class="t">10</text><text x="734" y="2186" class="t">5</text><text x="734" y="2233" class="t">0</text>
<text transform="translate(101,2173) rotate(-90)"><tspan font-size="24" font-weight="bold">NPSH</tspan><tspan font-size="16"> m</tspan></text>
<text transform="translate(782,2177) rotate(-90)" font-size="17">NPSH ft</text>
<text x="133" y="2248" class="t m">0</text><text x="158" y="2253" font-size="24" font-weight="bold" class="m">Q</text><text x="172" y="2251" class="t">m<tspan font-size="11" dy="-7">3</tspan><tspan dy="7">/h</tspan></text>
<text x="296.5" y="2248" class="t m">5</text><text x="461" y="2248" class="t m">10</text><text x="626" y="2248" class="t m">15</text><text x="675" y="2238" class="xs">72.054</text>

<!-- ================= NM17 H ================= -->
<rect x="926.4" y="1360" width="590.4" height="381.7" fill="url(#g8)"/>
<rect x="926.4" y="1360" width="590.4" height="381.7" class="f"/>
<text x="925.4" y="1348" class="t m">0</text><text x="939" y="1346" class="s">U.S. g.p.m.</text>
<text x="1121.7" y="1348" class="t m">100</text><text x="1216" y="1348" class="t m">150</text><text x="1310.8" y="1348" class="t m">200</text><text x="1406.7" y="1348" class="t m">250</text><text x="1502.2" y="1348" class="t m">300</text>
<line x1="926.4" y1="1355" x2="1517" y2="1355" stroke="#222" stroke-width="9" stroke-dasharray="1.3 37.0"/>
<text x="921" y="1366" class="t e">20</text><text x="921" y="1462" class="t e">15</text><text x="921" y="1557" class="t e">10</text><text x="921" y="1652" class="t e">5</text><text x="921" y="1748" class="t e">0</text>
<g class="tk"><line x1="1517" y1="1392.3" x2="1525" y2="1392.3"/><line x1="1517" y1="1450" x2="1525" y2="1450"/><line x1="1517" y1="1508.3" x2="1525" y2="1508.3"/><line x1="1517" y1="1566.7" x2="1525" y2="1566.7"/><line x1="1517" y1="1625" x2="1525" y2="1625"/><line x1="1517" y1="1682.7" x2="1525" y2="1682.7"/><line x1="1517" y1="1421" x2="1522" y2="1421"/><line x1="1517" y1="1479" x2="1522" y2="1479"/><line x1="1517" y1="1537" x2="1522" y2="1537"/><line x1="1517" y1="1596" x2="1522" y2="1596"/><line x1="1517" y1="1654" x2="1522" y2="1654"/><line x1="1517" y1="1712" x2="1522" y2="1712"/></g>
<text x="1528" y="1398" class="t">60</text><text x="1528" y="1456" class="t">50</text><text x="1528" y="1514" class="t">40</text><text x="1528" y="1573" class="t">30</text><text x="1528" y="1631" class="t">20</text><text x="1528" y="1689" class="t">10</text><text x="1528" y="1748" class="t">0</text>
<text transform="translate(896,1562) rotate(-90)"><tspan font-size="24" font-weight="bold">H</tspan><tspan font-size="17"> m</tspan></text>
<text transform="translate(1575,1568) rotate(-90)" font-size="17">H ft</text>
<rect x="1360" y="1382" width="105" height="32" fill="#fff"/>
<text x="1364" y="1410" font-size="34" font-weight="bold" textLength="97" lengthAdjust="spacingAndGlyphs">NM 17</text>
<rect x="973" y="1369" width="80" height="20" fill="#fff"/><rect x="973" y="1411" width="80" height="20" fill="#fff"/><rect x="973" y="1486" width="80" height="20" fill="#fff"/><rect x="973" y="1531" width="80" height="20" fill="#fff"/>
<text x="976" y="1385" class="t"><tspan class="b">D</tspan>  Ø 125</text>
<text x="976" y="1427" class="t"><tspan class="b">F</tspan>  Ø 120</text>
<text x="976" y="1502" class="t"><tspan class="b">G</tspan>  Ø 107</text>
<text x="976" y="1547" class="t"><tspan class="b">H</tspan>  Ø 100</text>
<text x="1143" y="1383" class="s">65</text><text x="1185" y="1390" class="s">70</text><text x="1224" y="1399" class="s">72</text><text x="1265" y="1410" class="s">74</text><text x="1292" y="1420" class="s">75</text><text x="1386" y="1460" class="s">75</text><text x="1428" y="1480" class="s">74</text><text x="1471" y="1503" class="s">72</text><text x="1315" y="1482" class="s">η 76%</text>
<g transform="translate(860,1330) scale(0.48469,0.33333)">
<polyline class="c" points="137,185 250,182 400,181 500,185 600,200 700,225 800,260 900,305 1000,355 1100,425 1200,500 1285,575"/>
<polyline class="c" points="137,313 250,303 400,302 520,318 650,350 750,378 850,420 950,470 1050,540 1150,620 1220,700 1285,775"/>
<polyline class="c" points="137,520 300,527 420,535 500,548 600,572 700,605 800,645 900,690 1000,760 1070,830 1130,920 1180,1005"/>
<polyline class="c" points="137,660 300,665 450,680 550,705 650,735 750,770 850,818 930,870 1000,930 1040,980 1078,1035"/>
<polyline class="d" points="605,168 570,280 540,420 522,560 522,760"/>
<polyline class="d" points="690,185 640,290 605,420 588,560 587,770"/>
<polyline class="d" points="760,212 720,320 690,480 683,650 685,800"/>
<polyline class="d" points="840,245 800,330 775,430 770,550 785,660 830,740 900,790 960,798 1020,780 1090,730 1150,650 1180,530 1188,460"/>
<polyline class="d" points="905,275 860,370 838,480 845,580 890,650 960,690 1020,678 1070,610 1090,520 1100,400"/>
<polyline class="d" points="970,470 955,525"/>
<polyline class="d" points="1278,530 1250,640 1200,740 1140,810 1050,870 960,905 920,918"/>
</g>
<line x1="926.4" y1="1799.3" x2="1517" y2="1799.3" stroke="#111" stroke-width="4"/>
<line x1="926.4" y1="1793" x2="1517" y2="1793" stroke="#222" stroke-width="8" stroke-dasharray="1.3 24.0"/>
<line x1="926.4" y1="1805.5" x2="1517" y2="1805.5" stroke="#222" stroke-width="8" stroke-dasharray="1.3 29.0"/>
<text x="926" y="1763" class="t m">0</text><text x="948" y="1773" font-size="24" font-weight="bold" class="m">Q</text><text x="962" y="1764" class="t">m<tspan font-size="11" dy="-7">3</tspan><tspan dy="7">/h</tspan></text>
<text x="1011.7" y="1763" class="t m">10</text><text x="1096" y="1763" class="t m">20</text><text x="1180" y="1763" class="t m">30</text><text x="1263.8" y="1763" class="t m">40</text><text x="1348" y="1763" class="t m">50</text><text x="1432" y="1763" class="t m">60</text><text x="1516.8" y="1763" class="t m">70</text>
<text x="926" y="1788" class="t m">0</text><text x="963" y="1788" class="t">l/min</text><text x="1029.6" y="1788" class="t m">200</text><text x="1130.5" y="1788" class="t m">400</text><text x="1230.8" y="1788" class="t m">600</text><text x="1332.6" y="1788" class="t m">800</text><text x="1435.8" y="1788" class="t m">1000</text>
<text x="926" y="1825" class="t m">0</text><text x="964" y="1821" class="s">l/s</text><text x="1076.7" y="1825" class="t m">4</text><text x="1230.8" y="1825" class="t m">10</text><text x="1382" y="1825" class="t m">15</text><text x="1474.6" y="1825" class="t m">18</text>

<!-- NM17 P -->
<rect x="926.4" y="1845" width="590.4" height="190.7" fill="url(#g11)"/>
<rect x="926.4" y="1845" width="590.4" height="190.7" class="f"/>
<text x="921" y="1851" class="t e">3</text><text x="921" y="1914" class="t e">2</text><text x="921" y="1978" class="t e">1</text><text x="921" y="2042" class="t e">0</text>
<g class="tk"><line x1="1517" y1="1849" x2="1525" y2="1849"/><line x1="1517" y1="1895" x2="1525" y2="1895"/><line x1="1517" y1="1941.7" x2="1525" y2="1941.7"/><line x1="1517" y1="1988.3" x2="1525" y2="1988.3"/><line x1="1517" y1="1872" x2="1522" y2="1872"/><line x1="1517" y1="1918" x2="1522" y2="1918"/><line x1="1517" y1="1965" x2="1522" y2="1965"/><line x1="1517" y1="2012" x2="1522" y2="2012"/></g>
<text x="1528" y="1855" class="t">4</text><text x="1528" y="1901" class="t">3</text><text x="1528" y="1948" class="t">2</text><text x="1528" y="1994" class="t">1</text><text x="1528" y="2042" class="t">0</text>
<text transform="translate(896,1958) rotate(-90)"><tspan font-size="24" font-weight="bold">P</tspan><tspan font-size="16"> kW</tspan></text>
<text transform="translate(1575,1955) rotate(-90)" font-size="17">P HP</text>
<g transform="translate(860,1830) scale(0.48469,0.33333)">
<polyline class="c" points="137,398 300,320 500,215 700,165 850,128 1000,95 1100,77 1200,68 1285,63"/>
<polyline class="c" points="137,473 300,390 500,295 700,245 850,215 1000,192 1100,183 1285,178"/>
<polyline class="c" points="137,500 300,453 500,395 700,360 850,326 1000,318 1180,318"/>
<polyline class="c" points="137,522 300,483 500,450 650,423 800,410 950,407 1075,407"/>
<polyline class="c" points="558,1057 650,1042 750,1022 850,995 950,958 1050,912 1150,860 1230,815 1285,785"/>
</g>
<text x="1488" y="1861" class="t b">D</text><text x="1485" y="1893" class="t b">F</text><text x="1437" y="1941" class="t b">G</text><text x="1388" y="1974" class="t b">H</text>

<!-- NM17 NPSH -->
<rect x="926.4" y="2074" width="590.4" height="152.7" fill="url(#g12)"/>
<rect x="926.4" y="2074" width="590.4" height="152.7" class="f"/>
<text x="921" y="2080" class="t e">5</text><text x="921" y="2110" class="t e">4</text><text x="921" y="2141" class="t e">3</text><text x="921" y="2172" class="t e">2</text><text x="921" y="2202" class="t e">1</text><text x="921" y="2233" class="t e">0</text>
<g class="tk"><line x1="1517" y1="2086.7" x2="1525" y2="2086.7"/><line x1="1517" y1="2133.3" x2="1525" y2="2133.3"/><line x1="1517" y1="2180" x2="1525" y2="2180"/><line x1="1517" y1="2110" x2="1522" y2="2110"/><line x1="1517" y1="2157" x2="1522" y2="2157"/><line x1="1517" y1="2203" x2="1522" y2="2203"/></g>
<text x="1528" y="2093" class="t">15</text><text x="1528" y="2139" class="t">10</text><text x="1528" y="2186" class="t">5</text><text x="1528" y="2233" class="t">0</text>
<text transform="translate(896,2173) rotate(-90)"><tspan font-size="24" font-weight="bold">NPSH</tspan><tspan font-size="16"> m</tspan></text>
<text transform="translate(1575,2177) rotate(-90)" font-size="17">NPSH ft</text>
<text x="926" y="2248" class="t m">0</text><text x="948" y="2253" font-size="24" font-weight="bold" class="m">Q</text><text x="962" y="2251" class="t">m<tspan font-size="11" dy="-7">3</tspan><tspan dy="7">/h</tspan></text>
<text x="1012" y="2248" class="t m">10</text><text x="1096" y="2248" class="t m">20</text><text x="1180" y="2248" class="t m">30</text><text x="1264" y="2248" class="t m">40</text><text x="1348" y="2248" class="t m">50</text><text x="1432" y="2248" class="t m">60</text><text x="1517" y="2248" class="t m">70</text><text x="1467" y="2238" class="xs">72.057</text>

<text x="834" y="2311" font-size="21" class="m">12</text>
</svg>
</body></html>
